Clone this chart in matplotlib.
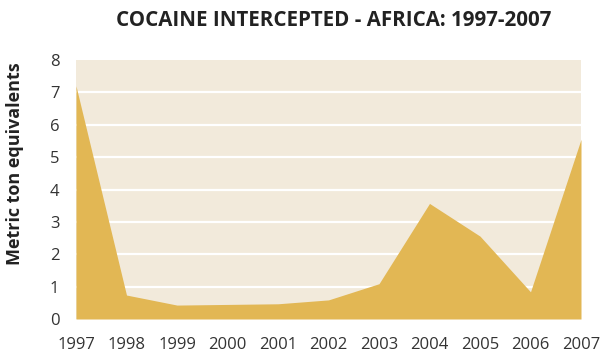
import matplotlib
matplotlib.use('Agg')
import matplotlib.pyplot as plt

# data
years = [1997, 1998, 1999, 2000, 2001, 2002, 2003, 2004, 2005, 2006, 2007]
tons = [7.2, 0.74, 0.43, 0.45, 0.47, 0.59, 1.09, 3.57, 2.56, 0.84, 5.55]
y_ticks = [0, 1, 2, 3, 4, 5, 6, 7, 8]

plt.rcParams['font.family'] = ['Open Sans', 'DejaVu Sans']

fig = plt.figure(figsize=(6.02, 3.6), dpi=100)
ax = fig.add_axes([76 / 602, 1 - 319 / 360, 505 / 602, 259 / 360])

ax.set_facecolor('#f2eadb')
ax.fill_between(years, tons, 0, color='#e2b754', linewidth=0, zorder=3)
for v in y_ticks[1:-1]:
    ax.axhline(v, color='white', linewidth=1.6, zorder=2)

ax.set_xlim(years[0], years[-1])
ax.set_ylim(0, 8)
ax.set_xticks(years)
ax.set_yticks(y_ticks)
ax.tick_params(length=0, labelsize=12, colors='#333333')
ax.tick_params(axis='x', pad=13)
ax.tick_params(axis='y', pad=12)
for s in ax.spines.values():
    s.set_visible(False)

fig.text(334 / 602, 1 - 20 / 360, 'COCAINE INTERCEPTED - AFRICA: 1997-2007',
         ha='center', va='center', fontsize=14.8, fontweight='bold', color='#222222')
fig.text(15 / 602, 1 - 164 / 360, 'Metric ton equivalents', rotation=90,
         ha='center', va='center', fontsize=13, fontweight='bold', color='#222222')

fig.savefig('out.png', dpi=100)
